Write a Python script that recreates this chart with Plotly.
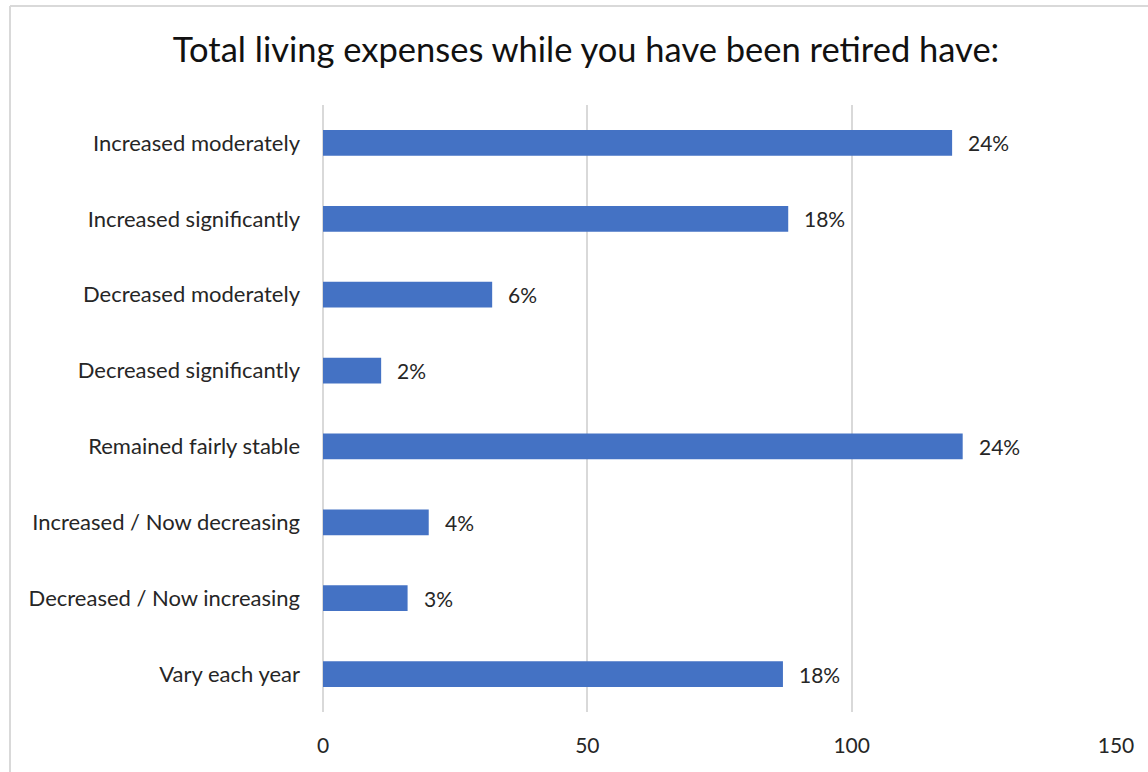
import plotly.graph_objects as go

# Survey responses: count of respondents per answer, and the share shown beside each bar
categories = [
    "Increased moderately",
    "Increased significantly",
    "Decreased moderately",
    "Decreased significantly",
    "Remained fairly stable",
    "Increased / Now decreasing",
    "Decreased / Now increasing",
    "Vary each year",
]
counts = [119, 88, 32, 11, 121, 20, 16, 87]
pct_labels = ["24%", "18%", "6%", "2%", "24%", "4%", "3%", "18%"]

x_ticks = [0, 50, 100, 150]

FONT = "Lato, 'Open Sans', sans-serif"
BAR_COLOR = "#4472C4"
GRID = "#d9d9d9"

fig = go.Figure()
fig.add_trace(
    go.Bar(
        x=counts,
        y=categories,
        orientation="h",
        width=0.34,
        marker=dict(color=BAR_COLOR, line=dict(width=0)),
        hoverinfo="skip",
    )
)

# Percentage labels to the right of each bar
for cat, val, lab in zip(categories, counts, pct_labels):
    fig.add_annotation(
        x=val, y=cat, text=lab, showarrow=False,
        xanchor="left", yanchor="middle", xshift=14,
        font=dict(family=FONT, size=21, color="#262626"),
    )

fig.update_layout(
    width=1148,
    height=772,
    margin=dict(l=323, r=32, t=105, b=60),
    paper_bgcolor="white",
    plot_bgcolor="white",
    showlegend=False,
    title=dict(
        text="Total living expenses while you have been retired have:",
        x=0.5105, xanchor="center", xref="container",
        y=0.935, yanchor="middle", yref="container",
        font=dict(family=FONT, size=34.5, color="#111111"),
    ),
    xaxis=dict(
        range=[0, 150],
        tickvals=x_ticks,
        ticktext=[str(v) for v in x_ticks],
        showgrid=True, gridcolor=GRID, gridwidth=2,
        zeroline=True, zerolinecolor=GRID, zerolinewidth=2,
        showline=False, ticks="",
        tickfont=dict(family=FONT, size=21, color="#262626"),
        ticklabelstandoff=19,
        fixedrange=True,
    ),
    yaxis=dict(
        categoryorder="array",
        categoryarray=categories,
        autorange="reversed",
        showgrid=False, showline=False, ticks="",
        tickfont=dict(family=FONT, size=22, color="#262626"),
        ticklabelstandoff=22,
        fixedrange=True,
    ),
    shapes=[
        # light frame along the top and left of the chart area
        dict(type="line", xref="paper", yref="paper",
             x0=-0.3947, x1=1.05, y0=1.163, y1=1.163,
             line=dict(color=GRID, width=2)),
        dict(type="line", xref="paper", yref="paper",
             x0=-0.3947, x1=-0.3947, y0=1.163, y1=-0.12,
             line=dict(color=GRID, width=2)),
    ],
)

fig.write_html("out.html")
